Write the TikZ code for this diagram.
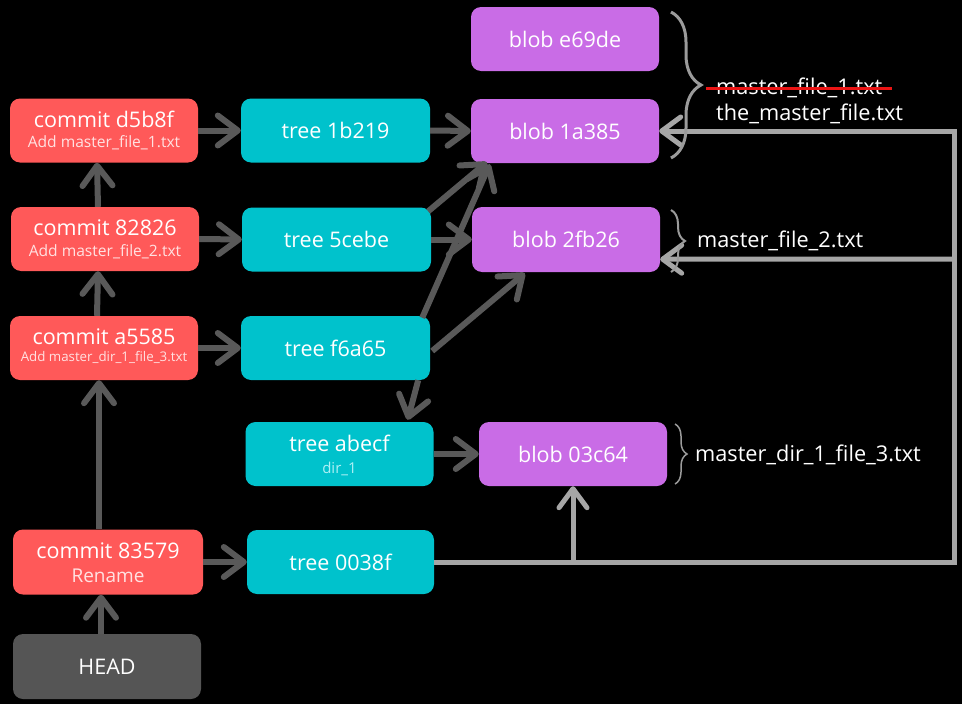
\documentclass[tikz,border=0pt]{standalone}
\usepackage{fontspec}
\setmainfont{Open Sans}
\usetikzlibrary{arrows.meta,decorations.pathreplacing,calc}

\definecolor{commitred}{RGB}{255,89,89}
\definecolor{treecyan}{RGB}{0,194,204}
\definecolor{blobpurple}{RGB}{201,108,230}
\definecolor{headgray}{RGB}{85,85,85}
\definecolor{darkarrow}{RGB}{89,89,89}
\definecolor{lightline}{RGB}{166,166,166}
\definecolor{bracegray}{RGB}{155,155,155}
\definecolor{strikered}{RGB}{235,20,20}
\definecolor{subpink}{RGB}{255,225,225}
\definecolor{subcyan}{RGB}{175,240,245}

\tikzset{
  objbox/.style={rounded corners=10pt, minimum width=188pt, minimum height=64pt,
    inner sep=0pt, text=white, font=\fontsize{21.5}{25}\selectfont},
  commitbox/.style={objbox, fill=commitred},
  treebox/.style={objbox, fill=treecyan},
  blobbox/.style={objbox, fill=blobpurple},
  headbox/.style={objbox, fill=headgray},
  ttl/.style={anchor=base, inner sep=0pt, text=white, font=\fontsize{21.5}{25}\selectfont},
  subttl/.style={anchor=base, inner sep=0pt, text=subpink},
  fname/.style={anchor=base west, inner sep=0pt, text=white, font=\fontsize{21.7}{25}\selectfont},
  darr/.style={draw=darkarrow, line width=6pt,
    -{Straight Barb[length=20pt, width=30pt, round]}},
  lline/.style={draw=lightline, line width=5pt},
  larr/.style={lline, -{Straight Barb[length=19pt, width=28pt, round]}},
  fbrace/.style={draw=bracegray, decorate, decoration={brace, amplitude=#1}},
}

\begin{document}
\begin{tikzpicture}[x=1pt, y=-1pt]
\fill[black] (0,0) rectangle (962,704);
\useasboundingbox (0,0) rectangle (962,704);

% commits
\node[commitbox] (c1) at (104,130.5) {};
\node[commitbox] (c2) at (105,239) {};
\node[commitbox] (c3) at (104,348) {};
\node[commitbox, minimum width=190pt, minimum height=65pt] (c4) at (108,562) {};
\node[headbox, minimum height=65pt] (head) at (107,666.5) {HEAD};

\node[ttl] (c1a) at (104,127) {commit d5b8f};
\node[subttl, font=\fontsize{15.6}{18}\selectfont] (c1b) at (104,147) {Add master\_file\_1.txt};
\node[ttl] (c2a) at (105,235) {commit 82826};
\node[subttl, font=\fontsize{15.6}{18}\selectfont] (c2b) at (105,256) {Add master\_file\_2.txt};
\node[ttl] (c3a) at (104,344) {commit a5585};
\node[subttl, font=\fontsize{13.3}{16}\selectfont] (c3b) at (104,361) {Add master\_dir\_1\_file\_3.txt};
\node[ttl] (c4a) at (108,558) {commit 83579};
\node[subttl, font=\fontsize{19}{22}\selectfont] (c4b) at (108,582) {Rename};

% trees
\node[treebox, minimum width=189pt] (t1) at (335.5,130.5) {tree 1b219};
\node[treebox, minimum width=189pt] (t2) at (336.5,239.5) {tree 5cebe};
\node[treebox, minimum width=189pt] (t3) at (335.5,348) {tree f6a65};
\node[treebox] (t4) at (339.5,454) {};
\node[ttl] (t4a) at (339.5,451) {tree abecf};
\node[subttl, text=subcyan, font=\fontsize{15}{18}\selectfont] (t4b) at (339.5,473) {dir\_1};
\node[treebox, minimum width=187pt] (t5) at (340.5,562) {tree 0038f};

% blobs
\node[blobbox] (b0) at (565,39) {blob e69de};
\node[blobbox] (b1) at (565,131) {blob 1a385};
\node[blobbox, minimum height=65pt] (b2) at (566,239.5) {blob 2fb26};
\node[blobbox] (b3) at (573,454) {blob 03c64};

% parent links between commits
\draw[darr] ($(c2.north)+(-7,0)$) -- ($(c1.south)+(-7,0)$);
\draw[darr] ($(c3.north)+(-7,0)$) -- ($(c2.south)+(-7,0)$);
\draw[darr] ($(c4.north)+(-9,0)$) -- ($(c3.south)+(-5,0)$);
\draw[darr] ($(head.north)+(-6,0)$) -- ($(c4.south)+(-7,0)$);

% commit -> tree
\draw[darr] (c1.east) -- (t1.west);
\draw[darr] (c2.east) -- (t2.west);
\draw[darr] (c3.east) -- (t3.west);
\draw[darr] (c4.east) -- (t5.west);

% tree -> blob / subtree
\draw[darr] (t1.east) -- (b1.west);
\draw[darr] (t2.east) -- (b2.west);
\draw[darr] ($(t2.north east)+(-3,4)$) -- ($(b1.south west)+(16,-1)$);
\draw[darr] ($(t3.north east)+(-8,2)$) -- ($(b1.south west)+(19,1)$);
\draw[darr] ($(t3.east)+(2,3)$) -- ($(b2.south west)+(53,1)$);
\draw[darr] ($(t3.south east)+(-12,0)$) -- ($(t4.north east)+(-26,-2)$);
\draw[darr] (t4.east) -- (b3.west);

% tree 0038f links
\coordinate (rb) at (954,562);
\coordinate (rt) at (954,131);
\coordinate (rm) at (954,259);
\coordinate (bj) at (573,562);
\draw[larr] (t5.east) -- (rb) -- (rt) -- (b1.east);
\draw[larr] (rm) -- ($(b2.south east)+(0,-13)$);
\draw[larr] (bj) -- (b3.south);

% file names
\draw[fbrace=30pt, line width=3pt] (671,12) -- (671,158);
\draw[fbrace=14pt, line width=2pt] (671,210) -- (671,272);
\draw[fbrace=12pt, line width=1.5pt] (675,424) -- (675,484);

\node[fname] (n1) at (716,94) {master\_file\_1.txt};
\draw[strikered, line width=3pt] (706,88) -- (892,88);
\node[fname] (n2) at (716,120) {the\_master\_file.txt};
\node[fname] (n3) at (697,247) {master\_file\_2.txt};
\node[fname] (n4) at (695,461) {master\_dir\_1\_file\_3.txt};
\end{tikzpicture}
\end{document}
